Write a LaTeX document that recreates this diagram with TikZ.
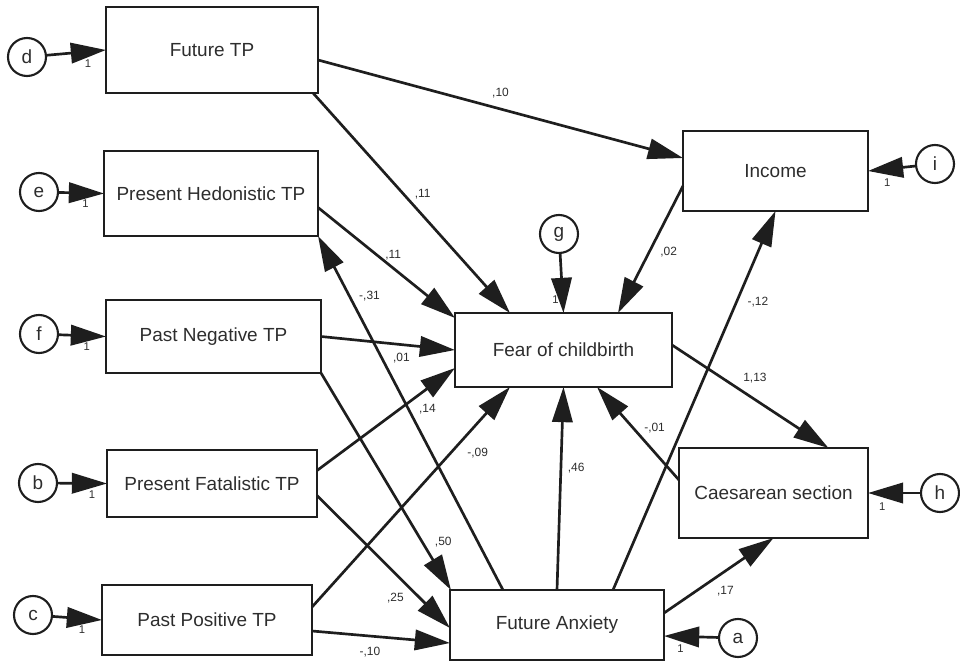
\documentclass[tikz,border=0pt]{standalone}
\usepackage{fontspec}
\setmainfont{Liberation Sans}
\usetikzlibrary{arrows.meta,calc}

\definecolor{semline}{RGB}{30,30,30}
\definecolor{semtext}{RGB}{45,45,45}

\tikzset{
  var/.style 2 args={draw=semline, line width=1.9pt, minimum width=#1, minimum height=#2,
    inner sep=0pt, outer sep=0pt, font=\fontsize{13.5}{16}\selectfont, text=semtext},
  err/.style={draw=semline, line width=1.5pt, circle, minimum size=0.95cm, inner sep=0pt,
    outer sep=0pt, font=\fontsize{13.5}{16}\selectfont, text=semtext},
  eff/.style={draw=semline, line width=1.9pt, -{Triangle[length=25pt,width=14.5pt]}},
  coef/.style={font=\fontsize{8.5}{10}\selectfont, text=semtext, inner sep=1pt},
  one/.style={font=\fontsize{8}{9}\selectfont, text=semtext, inner sep=1pt}
}

\begin{document}
\begin{tikzpicture}[x=0.025cm, y=-0.025cm]
        \useasboundingbox (0,0) rectangle (960,663);

        % Time perspectives
        \node[var={5.3cm}{2.15cm}]    (ftp) at (212,50)    {Future TP};
        \node[var={5.35cm}{2.125cm}]  (ph)  at (211,193.5) {Present Hedonistic TP};
        \node[var={5.375cm}{1.825cm}] (pn)  at (213.5,336.5) {Past Negative TP};
        \node[var={5.25cm}{1.675cm}]  (pf)  at (212,483.5) {Present Fatalistic TP};
        \node[var={5.25cm}{1.75cm}]   (pp)  at (207,620)   {Past Positive TP};

        % Outcomes
        \node[var={5.425cm}{1.85cm}] (fear) at (563.5,350) {Fear of childbirth};
        \node[var={5.35cm}{1.75cm}]  (anx)  at (557,625)   {Future Anxiety};
        \node[var={4.625cm}{2cm}]    (inc)  at (775.5,171) {Income};
        \node[var={4.725cm}{2.25cm}] (caes) at (773.5,493) {Caesarean section};

        % Error terms
        \node[err] (d) at (27,57)   {d};
        \node[err] (e) at (39,192)  {e};
        \node[err] (f) at (39,334)  {f};
        \node[err] (b) at (38,483)  {b};
        \node[err] (c) at (33,615)  {c};
        \node[err] (g) at (559,234) {g};
        \node[err] (i) at (935,164) {i};
        \node[err] (h) at (940,493) {h};
        \node[err] (a) at (738,638) {a};

        \draw[eff] (d) -- (ftp.west) node[one,pos=0.7,below=4pt] {1};
        \draw[eff] (e) -- (ph.west) node[one,pos=0.6,below=3pt] {1};
        \draw[eff] (f) -- (pn.west) node[one,pos=0.6,below=3pt] {1};
        \draw[eff] (b) -- (pf.west) node[one,pos=0.7,below=3pt] {1};
        \draw[eff] (c) -- (pp.west) node[one,pos=0.6,below=3pt] {1};
        \draw[eff] (g) -- (fear.north) node[one,pos=0.78,left=1pt] {1};
        \draw[eff] (i) -- (inc.east) node[one,pos=0.6,below=5pt] {1};
        \draw[eff] (h) -- (caes.east) node[one,pos=0.73,below=5pt] {1};
        \draw[eff] (a) -- ($(anx.east)+(0,11)$) node[one,pos=0.7,below=4pt] {1};

        % Paths from time perspectives
        \draw[eff] ($(ftp.east)+(0,10)$) -- ($(inc.west)+(0,-13)$) node[coef,pos=0.5,above=6pt] {,10};
        \draw[eff] ($(ftp.south east)+(-5,0)$) -- ($(fear.north west)+(55,0)$) node[coef,pos=0.46,right=6pt] {,11};
        \draw[eff] ($(ph.east)+(0,14)$) -- ($(fear.north west)+(0,5)$) node[coef,pos=0.43,right=4pt] {,11};
        \draw[eff] (pn.east) -- (fear.west) node[coef,pos=0.6,below=4pt] {,01};
        \draw[eff] (pn.south east) -- ($(anx.north west)+(1,0)$) node[coef,pos=0.78,right=7pt] {,50};
        \draw[eff] ($(pf.east)+(0,-13)$) -- ($(fear.south west)+(0,-19)$) node[coef,pos=0.8,below=9pt] {,14};
        \draw[eff] ($(pf.east)+(0,12)$) -- ($(anx.west)+(0,3)$) node[coef,pos=0.59,below=12pt] {,25};
        \draw[eff] ($(pp.east)+(0,-13)$) -- ($(fear.south west)+(55,0)$) node[coef,pos=0.7,right=10pt] {-,09};
        \draw[eff] ($(pp.east)+(0,11)$) -- ($(anx.west)+(0,18)$) node[coef,pos=0.42,below=6pt] {-,10};

        % Paths among outcomes
        \draw[eff] ($(anx.north west)+(53,0)$) -- (ph.south east) node[coef,pos=0.83,right=5pt] {-,31};
        \draw[eff] (anx.north) -- (fear.south) node[coef,pos=0.6,right=3pt] {,46};
        \draw[eff] ($(anx.north)+(56,0)$) -- (inc.south) node[coef,pos=0.76,right=6pt] {-,12};
        \draw[eff] ($(inc.west)+(0,15)$) -- ($(fear.north east)+(-54,0)$) node[coef,pos=0.52,right=6pt] {,02};
        \draw[eff] ($(fear.east)+(0,-5)$) -- ($(caes.north)+(55,0)$) node[coef,pos=0.53,above=10pt] {1,13};
        \draw[eff] ($(caes.west)+(0,-13)$) -- ($(fear.south east)+(-75,0)$) node[coef,pos=0.56,right=6pt] {-,01};
        \draw[eff] ($(anx.east)+(0,-12)$) -- (caes.south) node[coef,pos=0.56,below=9pt] {,17};
\end{tikzpicture}
\end{document}
